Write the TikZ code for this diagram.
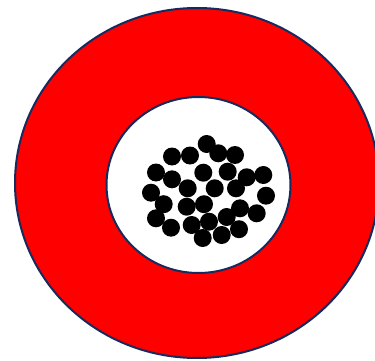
\documentclass[tikz,border=0pt]{standalone}
\definecolor{rim}{HTML}{172A5E}
\begin{document}
\begin{tikzpicture}[x=1pt,y=-1pt,ring/.style={draw=rim,line width=2pt},dot/.style={fill=black}]
\useasboundingbox (0,0) rectangle (375,361);
\clip (0,0) rectangle (375,361);
\draw[ring,fill=red] (197,183) ellipse (182 and 175);
\draw[ring,fill=white] (198.5,185) ellipse (92 and 88);
\fill[dot] (206.7,144) circle (9);
\fill[dot] (172,156.5) circle (9);
\fill[dot] (190,155.5) circle (9);
\fill[dot] (218.3,153.3) circle (9);
\fill[dot] (235,155) circle (9);
\fill[dot] (156,172.5) circle (9);
\fill[dot] (172,179.3) circle (9);
\fill[dot] (203.3,172.7) circle (9);
\fill[dot] (227.7,171.7) circle (9);
\fill[dot] (246.7,177.3) circle (9);
\fill[dot] (263.3,175) circle (9);
\fill[dot] (151,192.7) circle (9);
\fill[dot] (187.7,188.3) circle (9);
\fill[dot] (214.7,188.3) circle (9);
\fill[dot] (236,188.3) circle (9);
\fill[dot] (266,195.7) circle (9);
\fill[dot] (163.7,204.2) circle (9);
\fill[dot] (186.7,206.7) circle (9);
\fill[dot] (204,204.2) circle (9);
\fill[dot] (240,208.3) circle (9);
\fill[dot] (256.7,213.3) circle (9);
\fill[dot] (156,218.3) circle (9);
\fill[dot] (171,227.7) circle (9);
\fill[dot] (191.7,225) circle (9);
\fill[dot] (209,221.7) circle (9);
\fill[dot] (226.7,217) circle (9);
\fill[dot] (202.7,238) circle (9);
\fill[dot] (221.7,235) circle (9);
\fill[dot] (239,229.2) circle (9);
\end{tikzpicture}
\end{document}
